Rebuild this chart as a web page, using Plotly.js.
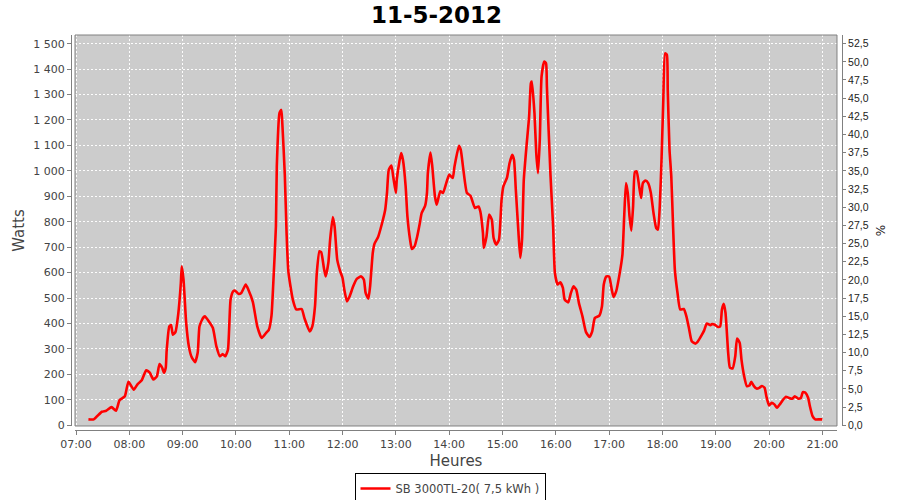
<!DOCTYPE html>
<html>
<head>
<meta charset="utf-8">
<script src="https://cdn.plot.ly/plotly-3.0.1.min.js"></script>
<style>html,body{margin:0;padding:0;background:#fff;}#chart{width:900px;height:500px;}</style>
</head>
<body>
<div id="chart"></div>
<script>
const day = '2012-05-11';
const chartTitle = '11-5-2012';
const seriesName = 'SB 3000TL-20( 7,5 kWh )';
const times = ['07:14','07:20','07:29','07:34','07:40','07:45','07:49','07:55','07:59','08:05','08:09','08:14','08:19','08:23','08:27','08:31','08:34','08:37','08:39','08:41','08:42','08:45','08:47','08:49','08:52','08:55','08:58','08:59','09:01','09:04','09:07','09:10','09:14','09:17','09:19','09:23','09:25','09:29','09:34','09:38','09:42','09:45','09:48','09:51','09:54','09:57','09:59','10:03','10:06','10:11','10:14','10:19','10:24','10:29','10:34','10:37','10:40','10:42','10:45','10:46','10:49','10:51','10:52','10:55','10:57','10:59','11:04','11:08','11:14','11:17','11:23','11:26','11:29','11:31','11:34','11:36','11:39','11:41','11:44','11:46','11:49','11:51','11:54','11:57','12:00','12:02','12:05','12:08','12:12','12:16','12:21','12:24','12:26','12:29','12:31','12:34','12:36','12:40','12:44','12:48','12:50','12:52','12:55','12:57','13:00','13:01','13:04','13:06','13:08','13:11','13:13','13:16','13:18','13:21','13:24','13:27','13:29','13:33','13:35','13:36','13:39','13:41','13:44','13:46','13:50','13:53','13:57','14:00','14:04','14:06','14:11','14:13','14:16','14:20','14:24','14:29','14:33','14:35','14:38','14:39','14:42','14:45','14:48','14:50','14:53','14:56','14:59','15:01','15:05','15:08','15:11','15:13','15:15','15:18','15:20','15:22','15:24','15:27','15:30','15:32','15:33','15:36','15:38','15:40','15:42','15:44','15:47','15:49','15:50','15:54','15:57','15:59','16:02','16:05','16:08','16:10','16:14','16:17','16:20','16:23','16:26','16:30','16:34','16:38','16:41','16:44','16:49','16:52','16:54','16:57','17:00','17:03','17:05','17:08','17:12','17:15','17:17','17:19','17:21','17:23','17:25','17:27','17:29','17:31','17:34','17:36','17:38','17:41','17:44','17:47','17:50','17:53','17:55','17:57','17:59','18:01','18:03','18:05','18:06','18:08','18:10','18:12','18:14','18:17','18:20','18:24','18:27','18:30','18:33','18:37','18:40','18:44','18:47','18:50','18:54','18:56','18:59','19:02','19:05','19:07','19:09','19:11','19:14','19:16','19:19','19:22','19:24','19:27','19:29','19:32','19:35','19:38','19:40','19:43','19:46','19:49','19:52','19:55','19:57','20:00','20:03','20:06','20:09','20:13','20:16','20:19','20:22','20:26','20:29','20:33','20:36','20:38','20:41','20:44','20:46','20:49','20:52','20:57','21:00'];
const watts = [23,23,53,57,71,57,98,114,171,140,160,177,216,207,180,192,241,226,206,226,291,389,394,356,367,435,559,625,572,402,310,269,248,286,389,422,428,411,383,310,271,280,271,297,494,527,529,516,520,553,533,485,389,343,363,375,430,555,782,1017,1227,1240,1200,985,756,605,494,455,457,422,369,389,468,599,684,680,618,585,638,729,818,782,651,609,579,533,487,507,546,575,585,572,520,497,546,677,714,740,788,847,913,1004,1021,978,913,965,1037,1070,1043,939,821,729,693,703,742,795,834,863,913,991,1072,1017,899,867,920,913,955,985,972,1017,1098,1083,1004,913,902,854,860,841,756,697,742,828,808,736,710,729,887,939,972,1031,1063,1043,926,756,658,729,965,1096,1214,1345,1351,1227,1070,991,1122,1371,1430,1423,1331,985,782,599,553,562,540,494,483,520,546,533,481,428,366,347,369,422,431,468,553,585,585,533,504,527,599,671,821,952,913,821,765,860,995,998,935,893,952,962,952,913,834,775,769,860,1043,1279,1462,1456,1318,1083,978,782,612,520,455,457,428,379,330,321,330,353,373,400,393,398,395,387,389,455,477,442,285,226,223,271,341,324,258,193,154,156,171,154,144,147,154,147,114,78,88,82,69,86,101,112,108,104,114,104,108,130,128,108,75,36,23,23,23];
const xRange = ['2012-05-11 06:58:52', '2012-05-11 21:16:30'];
const wRange = [-3, 1534];
const pctPerWatt = 52.5 / 1500;

const xs = times.map(t => day + ' ' + t);
const tickFont = {family: 'DejaVu Sans', size: 11, color: '#444'};
const grid = {showgrid: true, gridcolor: 'rgba(255,255,255,0.95)', griddash: '2px,2px', gridwidth: 1};

const data = [
  {x: xs, y: watts, type: 'scatter', mode: 'lines', name: seriesName,
   line: {color: '#ff0000', width: 2.6, shape: 'spline', smoothing: 0.5}, hoverinfo: 'skip'},
  {x: [], y: [], yaxis: 'y2', type: 'scatter', mode: 'lines', showlegend: false, hoverinfo: 'skip'}
];

const layout = {
  width: 900, height: 500,
  margin: {l: 71, r: 58, t: 35, b: 70, pad: 0},
  paper_bgcolor: '#ffffff', plot_bgcolor: '#cccccc',
  separators: ', ',
  showlegend: true,
  title: {text: chartTitle, font: {family: 'DejaVu Sans', size: 23, weight: 'bold', color: '#000'},
          xref: 'container', x: 0.485, xanchor: 'center', yref: 'container', y: 0.97, yanchor: 'middle'},
  xaxis: Object.assign({
    type: 'date', range: xRange, domain: [0.00519, 0.99351], anchor: 'free', position: 0,
    tickformat: '%H:%M', tick0: day + ' 07:00', dtick: 3600000,
    ticks: 'outside', ticklen: 4, tickcolor: '#808080', tickfont: tickFont,
    showline: true, linecolor: '#808080', linewidth: 1, zeroline: false,
    title: {text: 'Heures', font: {family: 'DejaVu Sans', size: 15, color: '#444'}, standoff: 5}
  }, grid),
  yaxis: Object.assign({
    range: wRange, domain: [0.01013, 1], anchor: 'free', position: 0,
    tick0: 0, dtick: 100, tickformat: ',d',
    ticks: 'outside', ticklen: 4, tickcolor: '#808080', tickfont: tickFont,
    showline: true, linecolor: '#808080', linewidth: 1, zeroline: false,
    title: {text: 'Watts', font: {family: 'DejaVu Sans', size: 15, color: '#444'}, standoff: 4}
  }, grid),
  yaxis2: {
    range: [wRange[0] * pctPerWatt, wRange[1] * pctPerWatt], domain: [0.01013, 1],
    overlaying: 'y', side: 'right', anchor: 'free', position: 1,
    tick0: 0, dtick: 2.5, tickformat: '.1f', showgrid: false, zeroline: false,
    ticks: 'outside', ticklen: 3, tickcolor: '#808080',
    tickfont: {family: 'Liberation Sans', size: 10.5, color: '#222'},
    showline: true, linecolor: '#808080', linewidth: 1,
    title: {text: '%', font: {family: 'DejaVu Sans', size: 12, color: '#222'}, standoff: 8}
  },
  legend: {orientation: 'h', xref: 'container', x: 0.5, xanchor: 'center', yref: 'container', y: 0.054, yanchor: 'top',
           bordercolor: '#000', borderwidth: 1, bgcolor: '#fff',
           font: {family: 'DejaVu Sans', size: 11.5, color: '#444'}, itemwidth: 30},
  shapes: [
    {type: 'rect', xref: 'x domain', yref: 'y domain', x0: 0, x1: 1, y0: 0, y1: 1,
     line: {color: '#808080', width: 1}, fillcolor: 'rgba(0,0,0,0)', layer: 'above'}
  ]
};

Plotly.newPlot('chart', data, layout, {staticPlot: true, displayModeBar: false});
</script>
</body>
</html>
